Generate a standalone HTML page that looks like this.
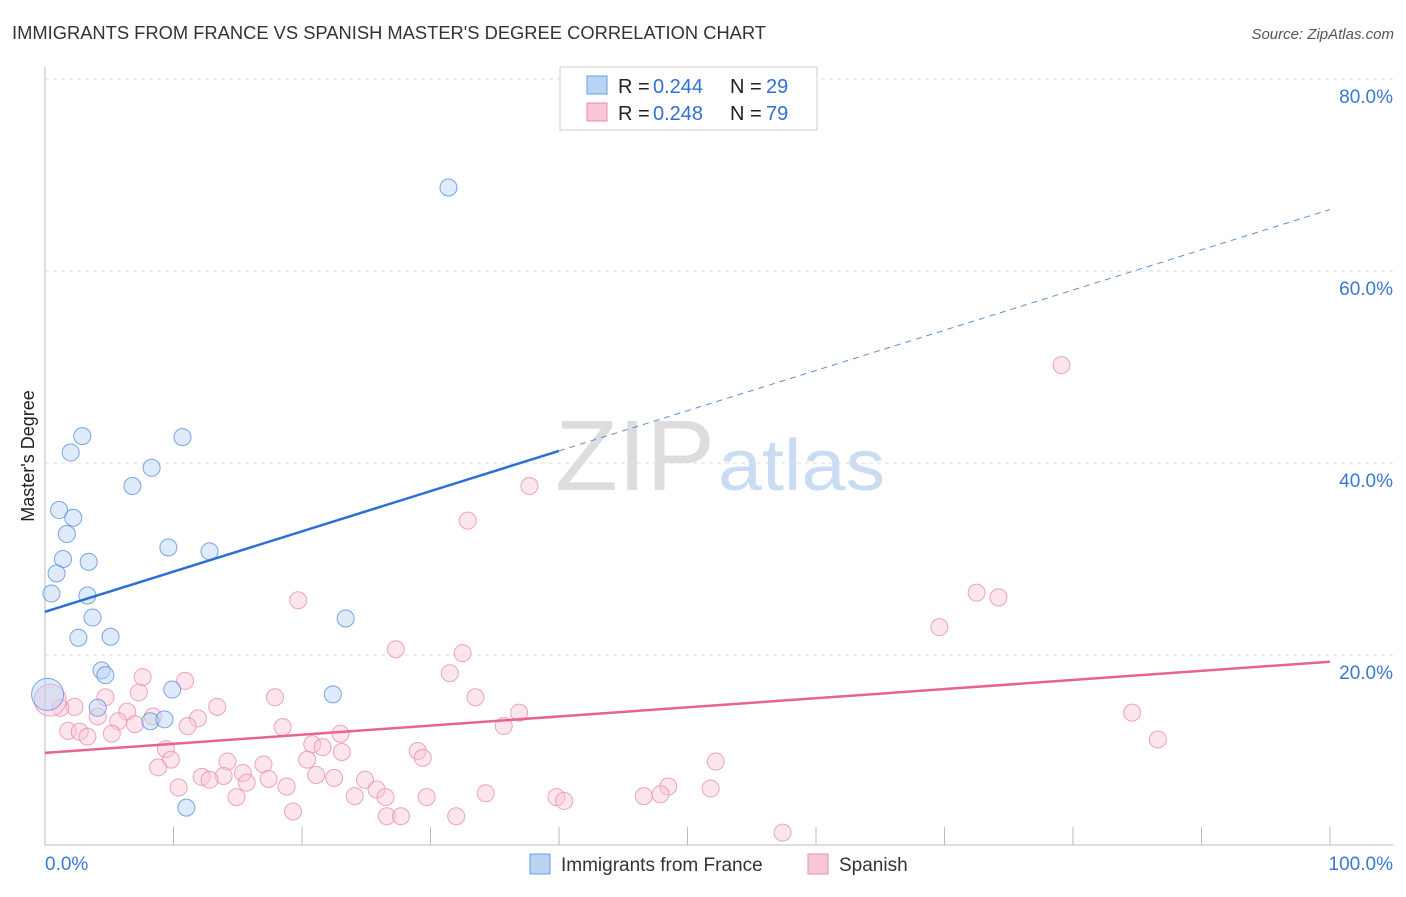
<!DOCTYPE html>
<html><head><meta charset="utf-8"><style>
body{margin:0;background:#fff;font-family:"Liberation Sans",sans-serif;}
svg text{font-family:"Liberation Sans",sans-serif;}
</style></head><body>
<svg width="1406" height="892">
<text x="12" y="39" font-size="18" fill="#333" textLength="754" lengthAdjust="spacingAndGlyphs">IMMIGRANTS FROM FRANCE VS SPANISH MASTER'S DEGREE CORRELATION CHART</text>
<text x="1394" y="39" font-size="15" fill="#555" text-anchor="end" font-style="italic">Source: ZipAtlas.com</text>
<text x="34" y="456" font-size="18" fill="#222" text-anchor="middle" transform="rotate(-90 34 456)">Master's Degree</text>
<text x="555" y="490" font-size="100" fill="#ddd" font-family="Liberation Serif" textLength="160" lengthAdjust="spacingAndGlyphs">ZIP</text>
<text x="718" y="490" font-size="72" fill="#c9dcf2" textLength="167" lengthAdjust="spacingAndGlyphs">atlas</text>
<g id="grid"></g><g id="marks"></g>
<g>
<rect x="560" y="67" width="257" height="63" fill="#fff" stroke="#ccc"/>
<rect x="587" y="76" width="20" height="18" fill="#b8d3f3" stroke="#6a9ee0"/>
<rect x="587" y="103" width="20" height="18" fill="#f9c6d6" stroke="#ea8fae"/>
<text y="93" font-size="20" fill="#222"><tspan x="618">R =</tspan><tspan x="653" fill="#2f6fd6">0.244</tspan><tspan x="730">N =</tspan><tspan x="766" fill="#2f6fd6">29</tspan></text>
<text y="120" font-size="20" fill="#222"><tspan x="618">R =</tspan><tspan x="653" fill="#2f6fd6">0.248</tspan><tspan x="730">N =</tspan><tspan x="766" fill="#2f6fd6">79</tspan></text>
</g>
<g>
<rect x="530" y="854" width="20" height="20" fill="#b8d3f3" stroke="#6a9ee0"/>
<text x="561" y="871" font-size="19" fill="#333">Immigrants from France</text>
<rect x="808" y="854" width="20" height="20" fill="#f9c6d6" stroke="#ea8fae"/>
<text x="839" y="871" font-size="19" fill="#333">Spanish</text>
</g>
</svg>
<script>
const yTicks=[20,40,60,80];
const xTickLabels=["0.0%","100.0%"];
const franceX=[31.4,2.9,10.7,2.0,8.3,6.8,1.1,2.2,1.7,9.6,12.8,1.4,3.4,0.9,0.5,3.3,3.7,23.4,2.6,5.1,4.4,4.7,9.9,22.4,4.1,8.2,9.3,11.0,0.2];
const franceY=[68.7,42.8,42.7,41.1,39.5,37.6,35.1,34.3,32.6,31.2,30.8,30.0,29.7,28.5,26.4,26.2,23.9,23.8,21.8,21.9,18.4,17.9,16.4,15.9,14.5,13.1,13.3,4.1,15.9];
const spanishX=[79.1,37.7,32.9,72.5,74.2,19.7,69.6,27.3,32.5,31.5,7.6,10.9,7.3,4.7,17.9,33.5,13.4,2.3,1.2,84.6,36.9,6.4,8.4,4.1,11.9,5.7,7.0,11.1,18.5,35.7,1.8,2.7,3.3,5.2,23.0,86.6,20.8,21.6,23.1,9.4,29.0,29.4,20.4,9.8,14.2,17.0,52.2,8.8,15.4,21.1,12.2,13.9,12.8,22.5,24.9,15.7,17.4,18.8,10.4,25.8,48.5,51.8,34.3,47.9,46.6,39.8,24.1,14.9,26.5,29.7,40.4,19.3,32.0,26.6,27.7,57.4,0.4];
const spanishY=[50.2,37.6,34.0,26.5,26.0,25.7,22.9,20.6,20.2,18.1,17.7,17.3,16.1,15.6,15.6,15.6,14.6,14.6,14.5,14.0,14.0,14.1,13.6,13.6,13.4,13.1,12.8,12.6,12.5,12.6,12.1,12.0,11.5,11.8,11.8,11.2,10.7,10.4,9.9,10.2,10.0,9.3,9.1,9.1,8.9,8.6,8.9,8.3,7.7,7.5,7.3,7.4,7.0,7.2,7.0,6.7,7.1,6.3,6.2,6.0,6.3,6.1,5.6,5.5,5.3,5.2,5.3,5.2,5.2,5.2,4.8,3.7,3.2,3.2,3.2,1.5,15.3];
const franceTrend=[24.5,66.4];
const spanishTrend=[9.8,19.3];
const NS="http://www.w3.org/2000/svg";
const X=v=>45+v*12.85, Y=v=>847-v*9.6;
function mk(t,a,p){const e=document.createElementNS(NS,t);for(const k in a)e.setAttribute(k,a[k]);p.appendChild(e);return e;}
const g=document.getElementById('grid'), m=document.getElementById('marks');
yTicks.forEach(t=>{
 const l=mk('line',{x1:45,x2:1393,y1:Y(t),y2:Y(t),stroke:'#ddd','stroke-dasharray':'4,4'},g);
 
 
 const tx=mk('text',{x:1393,y:Y(t)+24,'font-size':19,fill:'#3a78d4','text-anchor':'end'},g);tx.textContent=t.toFixed(1)+'%';
 
 
});
const ax=mk('line',{x1:45,x2:1393,y1:845,y2:845,stroke:'#bbb'},g);


const ay=mk('line',{x1:45,x2:45,y1:67,y2:845,stroke:'#bbb'},g);


for(let i=1;i<=10;i++){const t=mk('line',{x1:X(i*10),x2:X(i*10),y1:827,y2:845,stroke:'#bbb'},g);
 
 }
xTickLabels.forEach((s,i)=>{const t=mk('text',{x:i?1393:45,y:870,'font-size':19,fill:'#3a78d4','text-anchor':i?'end':'start'},g);t.textContent=s;
 
 });
function pts(xs,ys,fill,stroke,name){xs.forEach((x,i)=>{const big=i==xs.length-1&&x<1;
 const c=mk('circle',{cx:X(x),cy:Y(ys[i]),r:big?16:8.5,fill:fill,'fill-opacity':0.45,stroke:stroke,'stroke-width':1,'stroke-opacity':0.8},m);
 
 });}
pts(spanishX,spanishY,'#f9c6d6','#ea8fae','spanish-point');
pts(franceX,franceY,'#b8d3f3','#5a90dc','france-point');
const fy=x=>franceTrend[0]+(franceTrend[1]-franceTrend[0])*x/100;
const b1=mk('line',{x1:X(0),y1:Y(fy(0)),x2:X(40),y2:Y(fy(40)),stroke:'#2a6fd6','stroke-width':2.5},m);


const b2=mk('line',{x1:X(40),y1:Y(fy(40)),x2:X(100),y2:Y(fy(100)),stroke:'#5a90dc','stroke-width':1,'stroke-dasharray':'6,5'},m);


const p1=mk('line',{x1:X(0),y1:Y(spanishTrend[0]),x2:X(100),y2:Y(spanishTrend[1]),stroke:'#e8648f','stroke-width':2.5},m);


</script>
</body></html>
